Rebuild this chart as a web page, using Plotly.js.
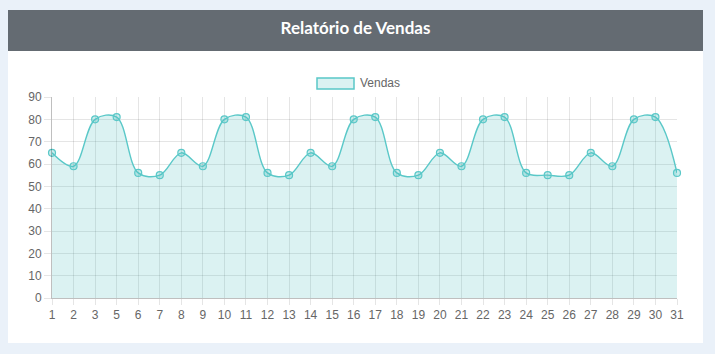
<!DOCTYPE html>
<html>
<head>
<meta charset="utf-8">
<script src="https://cdn.plot.ly/plotly-3.0.1.min.js"></script>
<style>
  html, body { margin: 0; padding: 0; width: 715px; height: 354px; overflow: hidden; background: #eaf1f9; }
  #card { position: absolute; left: 8px; top: 10px; width: 695px; height: 333px; background: #ffffff; }
  #header { position: absolute; left: 8px; top: 10px; width: 695px; height: 41px; background: #646b72;
            color: #ffffff; font-family: Lato, "Open Sans", sans-serif; font-weight: bold; font-size: 17px;
            line-height: 35px; text-align: center; }
  #chart { position: absolute; left: 0; top: 0; width: 715px; height: 354px; }
</style>
</head>
<body>
<div id="card"></div>
<div id="header">Relatório de Vendas</div>
<div id="chart"></div>
<script>
const categories = ['1','2','3','5','6','7','8','9','10','11','12','13','14','15','16','17','18','19','20','21','22','23','24','25','26','27','28','29','30','31'];
const vendas = [65,59,80,81,56,55,65,59,80,81,56,55,65,59,80,81,56,55,65,59,80,81,56,55,55,65,59,80,81,56];
const seriesName = 'Vendas';
const yTicks = [0,10,20,30,40,50,60,70,80,90];

const teal = 'rgb(90,200,200)';
const tealFill = 'rgba(75,192,192,0.2)';
const grid = 'rgba(0,0,0,0.1)';
const tickFont = { family: '"Liberation Sans", Arial, Helvetica, sans-serif', size: 12, color: '#666666' };

const trace = {
  type: 'scatter',
  mode: 'lines+markers',
  x: categories,
  y: vendas,
  name: seriesName,
  fill: 'tozeroy',
  fillcolor: tealFill,
  line: { color: teal, width: 1.4, shape: 'spline', smoothing: 1 },
  marker: { size: 7, color: 'rgba(75,192,192,0.3)', line: { color: teal, width: 1.2 } },
  cliponaxis: false,
  showlegend: false,
  hoverinfo: 'x+y'
};

const layout = {
  width: 715, height: 354,
  margin: { l: 52, r: 38, t: 97, b: 56, pad: 0 },
  paper_bgcolor: 'rgba(0,0,0,0)',
  plot_bgcolor: 'rgba(0,0,0,0)',
  showlegend: false,
  xaxis: {
    type: 'category',
    range: [0, categories.length - 1],
    showgrid: true, gridcolor: grid, gridwidth: 1,
    ticks: 'outside', ticklen: 6, tickcolor: grid, tickwidth: 1,
    showline: true, linecolor: 'rgba(0,0,0,0.25)', linewidth: 1,
    tickfont: tickFont, zeroline: false, fixedrange: true
  },
  yaxis: {
    range: [0, 90],
    tickvals: yTicks,
    showgrid: true, gridcolor: grid, gridwidth: 1,
    ticks: 'outside', ticklen: 7, tickcolor: grid, tickwidth: 1,
    showline: true, linecolor: 'rgba(0,0,0,0.25)', linewidth: 1,
    zeroline: false,
    tickfont: tickFont, fixedrange: true
  },
  shapes: [
    { type: 'rect', xref: 'paper', yref: 'paper',
      x0: (317 - 52) / 625, x1: (354 - 52) / 625,
      y0: (298 - 89) / 201, y1: (298 - 78) / 201,
      fillcolor: tealFill, line: { color: teal, width: 1.5 } }
  ],
  annotations: [
    { xref: 'paper', yref: 'paper', x: (358 - 52) / 625, y: (298 - 83.5) / 201,
      xanchor: 'left', yanchor: 'middle', showarrow: false, text: seriesName,
      font: tickFont }
  ]
};

Plotly.newPlot('chart', [trace], layout, { displayModeBar: false, staticPlot: false });
</script>
</body>
</html>
